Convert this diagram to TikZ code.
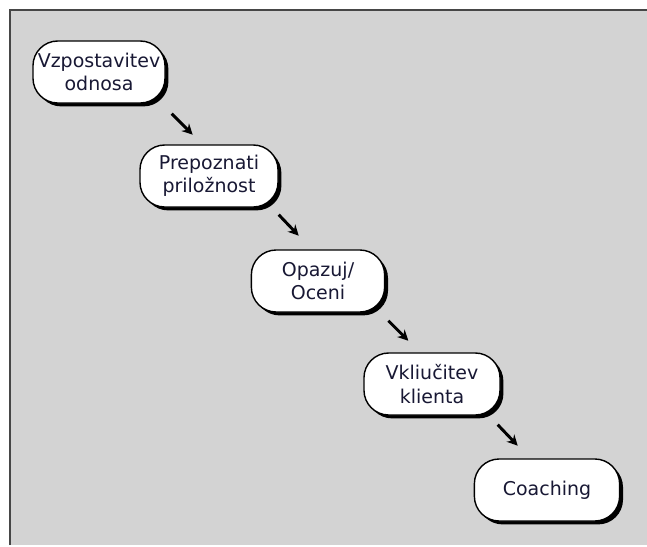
\documentclass[tikz,border=0pt]{standalone}
\usepackage{fontspec}
\setsansfont{DejaVu Sans}
\usetikzlibrary{positioning,shadows,arrows.meta,calc}
\definecolor{bggray}{RGB}{211,211,211}
\definecolor{framegray}{RGB}{70,70,70}
\definecolor{txtblue}{RGB}{24,24,52}

\begin{document}
\begin{tikzpicture}[x=0.025cm,y=-0.025cm,
  stage/.style={draw=black, line width=1pt, fill=white,
    rounded corners=0.62cm, minimum height=1.55cm, align=center,
    font=\sffamily\fontsize{13.5}{16.5}\selectfont, text=txtblue,
    drop shadow={shadow xshift=0.085cm, shadow yshift=-0.085cm,
      opacity=1, fill=black}},
  flow/.style={line width=2.1pt, -{Stealth[length=7.5pt,width=7.5pt]}}]
  \useasboundingbox (0,0) rectangle (647,547);

  % background panel
  \fill[bggray] (10,10) rectangle (647,545);
  \draw[framegray, line width=0.07cm] (10,545) -- (10,10) -- (647,10);

  % stages
  \node[stage, minimum width=3.3cm]  (odnos)   at (99,72)  {Vzpostavitev\\odnosa};
  \node[stage, minimum width=3.45cm] (priloz)  at (209,176) {Prepoznati\\priložnost};
  \node[stage, minimum width=3.33cm] (ocena)   at (318,281) {Opazuj/\\Oceni};
  \node[stage, minimum width=3.4cm]  (klient)  at (432,384) {Vkliučitev\\klienta};
  \node[stage, minimum width=3.63cm] (coach)   at (547,490) {Coaching};

  % short arrows between the stages
  \coordinate (f1) at ($(odnos.south east)+(6,10)$);
  \coordinate (t1) at ($(odnos.south east)+(27,31)$);
  \coordinate (f2) at ($(priloz.south east)+(0,7)$);
  \coordinate (t2) at ($(priloz.south east)+(20,28)$);
  \coordinate (f3) at ($(ocena.south east)+(3,8)$);
  \coordinate (t3) at ($(ocena.south east)+(23,28)$);
  \coordinate (f4) at ($(klient.south east)+(-3,9)$);
  \coordinate (t4) at ($(klient.south east)+(17,30)$);
  \draw[flow] (f1) -- (t1);
  \draw[flow] (f2) -- (t2);
  \draw[flow] (f3) -- (t3);
  \draw[flow] (f4) -- (t4);
\end{tikzpicture}
\end{document}
